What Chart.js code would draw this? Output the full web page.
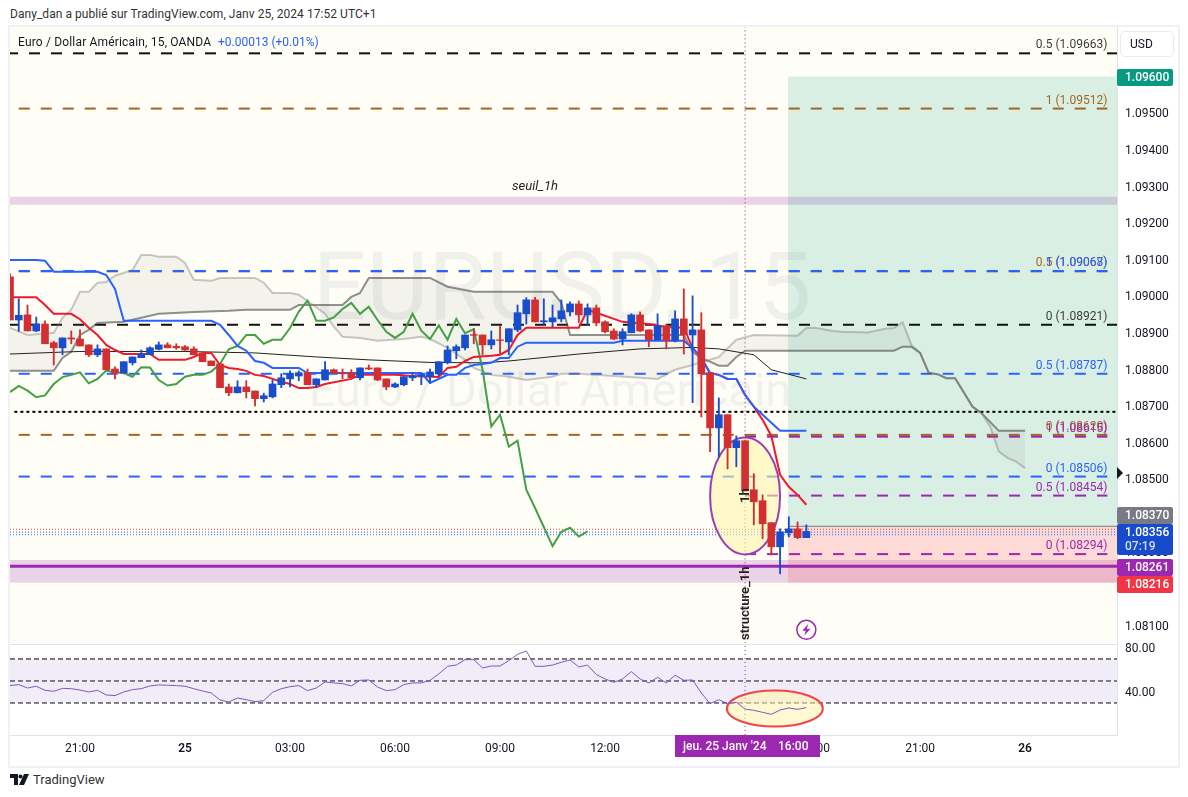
<!DOCTYPE html>
<html lang="fr">
<head>
<meta charset="UTF-8">
<title>EURUSD 15</title>
<script src="https://cdn.jsdelivr.net/npm/chart.js"></script>
<style>
  body { margin: 0; background: #fff; font-family: Roboto, sans-serif; color: #131722; }
  #page { position: relative; width: 1188px; height: 797px; overflow: hidden; }
  #frame { position: absolute; left: 8px; top: 25px; width: 1168px; height: 739px; border: 2px solid #eff1f6; }
  canvas { position: absolute; left: 10px; }
  #mainChart { top: 27px; }
  #rsiChart { top: 640px; }
  .txt { position: absolute; white-space: nowrap; font-size: 12px; line-height: 16px; }
  #usd { left: 1120px; top: 31px; width: 54px; height: 26px; box-sizing: border-box; border: 1px solid #e8eaf0; border-radius: 5px; line-height: 24px; padding-left: 9px; }
  #logo { position: absolute; left: 10px; top: 774px; }
</style>
</head>
<body>
<div id="page">
  <div id="frame"></div>
  <canvas id="mainChart" width="1168" height="616"></canvas>
  <canvas id="rsiChart" width="1168" height="126"></canvas>
  <div class="txt" style="left:10px;top:6px;color:#333;letter-spacing:.05px">Dany_dan a publié sur TradingView.com, Janv 25, 2024 17:52 UTC+1</div>
  <div class="txt" style="left:18px;top:34px;letter-spacing:.17px">Euro / Dollar Américain, 15, OANDA</div>
  <div class="txt" style="left:218px;top:34px;color:#2962ff">+0.00013 (+0.01%)</div>
  <div class="txt" id="usd">USD</div>
  <svg id="logo" width="20" height="12" viewBox="0 0 20 12"><path d="M0 0h8v11H4V4H0z M14 0h5l-5 11H9z" fill="#131722"/><circle cx="10.5" cy="2.5" r="2" fill="#131722"/></svg>
  <div class="txt" style="left:33px;top:772px;font-size:13px;color:#333">TradingView</div>
</div>

<script>
// candles, one per 15 min bar, bar 0 = 21:00
const firstBar = -8;
const opens = [1.09052,1.08934,1.08948,1.08904,1.08923,1.08872,1.08858,1.08885,1.08882,1.08866,1.08839,1.08855,1.08800,1.08789,1.08817,1.08831,1.08839,1.08854,1.08866,1.08862,1.08861,1.08855,1.08844,1.08822,1.08814,1.08751,1.08735,1.08751,1.08740,1.08719,1.08724,1.08757,1.08773,1.08781,1.08790,1.08757,1.08770,1.08798,1.08790,1.08790,1.08776,1.08803,1.08803,1.08773,1.08751,1.08757,1.08776,1.08781,1.08779,1.08787,1.08817,1.08850,1.08858,1.08894,1.08893,1.08866,1.08880,1.08874,1.08907,1.08951,1.08989,1.08929,1.08929,1.08937,1.08956,1.08978,1.08948,1.08967,1.08929,1.08904,1.08882,1.08899,1.08948,1.08907,1.08880,1.08918,1.08877,1.08937,1.08893,1.08907,1.08790,1.08639,1.08675,1.08585,1.08604,1.08470,1.08440,1.08380,1.08314,1.08352,1.08363,1.08339];
const highs = [1.09060,1.08992,1.08975,1.08942,1.08932,1.08876,1.08885,1.08904,1.08907,1.08866,1.08866,1.08855,1.08806,1.08820,1.08833,1.08852,1.08861,1.08874,1.08872,1.08869,1.08864,1.08861,1.08844,1.08822,1.08814,1.08759,1.08768,1.08768,1.08740,1.08734,1.08770,1.08787,1.08795,1.08795,1.08800,1.08773,1.08820,1.08800,1.08800,1.08798,1.08803,1.08811,1.08803,1.08773,1.08762,1.08779,1.08790,1.08787,1.08800,1.08820,1.08863,1.08866,1.08893,1.08910,1.08893,1.08904,1.08918,1.08910,1.08975,1.08995,1.08996,1.08992,1.08975,1.08989,1.08984,1.08986,1.08978,1.08975,1.08932,1.08910,1.08910,1.08951,1.08956,1.08907,1.08951,1.08923,1.08959,1.09019,1.09000,1.08954,1.08790,1.08721,1.08675,1.08617,1.08604,1.08514,1.08456,1.08380,1.08363,1.08396,1.08382,1.08374];
const lows = [1.08934,1.08903,1.08904,1.08902,1.08869,1.08811,1.08839,1.08869,1.08863,1.08834,1.08834,1.08798,1.08773,1.08789,1.08811,1.08831,1.08839,1.08852,1.08858,1.08854,1.08851,1.08839,1.08820,1.08809,1.08749,1.08727,1.08735,1.08721,1.08699,1.08710,1.08721,1.08749,1.08751,1.08768,1.08757,1.08749,1.08770,1.08787,1.08773,1.08776,1.08770,1.08798,1.08768,1.08743,1.08749,1.08754,1.08768,1.08757,1.08762,1.08781,1.08814,1.08828,1.08852,1.08869,1.08839,1.08855,1.08839,1.08839,1.08902,1.08923,1.08929,1.08923,1.08915,1.08929,1.08945,1.08927,1.08921,1.08918,1.08899,1.08880,1.08866,1.08899,1.08902,1.08861,1.08880,1.08855,1.08874,1.08841,1.08708,1.08669,1.08574,1.08560,1.08527,1.08533,1.08467,1.08374,1.08336,1.08292,1.08240,1.08341,1.08336,1.08339];
const closes = [1.08934,1.08947,1.08904,1.08923,1.08869,1.08858,1.08885,1.08882,1.08863,1.08839,1.08855,1.08798,1.08789,1.08820,1.08833,1.08841,1.08858,1.08866,1.08858,1.08858,1.08852,1.08839,1.08820,1.08809,1.08749,1.08735,1.08751,1.08738,1.08719,1.08727,1.08759,1.08776,1.08787,1.08790,1.08757,1.08773,1.08798,1.08790,1.08787,1.08776,1.08803,1.08800,1.08770,1.08751,1.08759,1.08779,1.08781,1.08784,1.08792,1.08820,1.08852,1.08861,1.08893,1.08892,1.08866,1.08880,1.08878,1.08910,1.08954,1.08989,1.08929,1.08932,1.08940,1.08959,1.08978,1.08948,1.08967,1.08926,1.08902,1.08882,1.08902,1.08948,1.08904,1.08880,1.08918,1.08877,1.08937,1.08893,1.08907,1.08787,1.08639,1.08675,1.08585,1.08604,1.08467,1.08437,1.08377,1.08314,1.08355,1.08363,1.08339,1.08356];

// indicator lines, read at their vertices
const blueBars = [-8,-5,-4,-3,2,3,4,5,15,16,17,18,19,20,21,22,25,26,39,40,42,43,44,45,47,48,49,50,51,61,62,69,70,71,72,73,74,75,76,77,78,79,80,83];
const blueVals = [1.09098,1.09098,1.09096,1.09066,1.09066,1.09057,1.09019,1.08932,1.08932,1.08921,1.08893,1.08863,1.08850,1.08822,1.08817,1.08803,1.08803,1.08789,1.08789,1.08762,1.08784,1.08784,1.08803,1.08811,1.08817,1.08830,1.08830,1.08861,1.08872,1.08872,1.08877,1.08877,1.08858,1.08830,1.08789,1.08784,1.08773,1.08773,1.08729,1.08697,1.08675,1.08653,1.08631,1.08631];
const redBars = [-8,-5,-4,-3,-1,0,1,2,3,4,5,8,9,12,13,14,15,16,17,18,19,20,21,22,23,24,25,26,27,28,31,32,36,38,41,42,43,44,45,47,48,49,50,51,57,58,59,61,62,65,67,69,70,71,72,73,74,75,76,77,78,79,80,81,82,83];
const redVals = [1.08996,1.08996,1.08975,1.08951,1.08951,1.08936,1.08913,1.08893,1.08866,1.08852,1.08841,1.08841,1.08825,1.08825,1.08833,1.08844,1.08844,1.08811,1.08803,1.08800,1.08795,1.08784,1.08781,1.08773,1.08765,1.08759,1.08748,1.08748,1.08751,1.08759,1.08773,1.08784,1.08784,1.08781,1.08778,1.08803,1.08806,1.08822,1.08833,1.08836,1.08839,1.08852,1.08893,1.08913,1.08913,1.08962,1.08954,1.08937,1.08929,1.08923,1.08915,1.08913,1.08858,1.08830,1.08789,1.08784,1.08773,1.08773,1.08729,1.08697,1.08661,1.08617,1.08511,1.08478,1.08456,1.08429];
// lagging line, one value per bar from firstBar
const greenVals = [1.08737,1.08754,1.08741,1.08723,1.08728,1.08759,1.08778,1.08784,1.08791,1.08761,1.08773,1.08796,1.08791,1.08789,1.08779,1.08805,1.08804,1.08770,1.08755,1.08759,1.08779,1.08784,1.08784,1.08793,1.08814,1.08854,1.08863,1.08893,1.08893,1.08869,1.08880,1.08880,1.08912,1.08957,1.08987,1.08932,1.08932,1.08941,1.08964,1.08981,1.08951,1.08970,1.08934,1.08902,1.08885,1.08902,1.08951,1.08905,1.08882,1.08919,1.08880,1.08937,1.08898,1.08909,1.08798,1.08643,1.08675,1.08588,1.08604,1.08470,1.08420,1.08368,1.08316,1.08355,1.08366,1.08342,1.08356];
const avgBars = [-8,0,12,20,27,33,40,46,49,57,64,70,73,77,79,83];
const avgVals = [1.08841,1.08848,1.08848,1.08844,1.08833,1.08825,1.08818,1.08817,1.08822,1.08841,1.08855,1.08859,1.08855,1.08839,1.08798,1.08773];
const spanABars = [-8,-6,-3,-2,-1,0,1,2,3,4,6,7,8,9,11,12,13,15,16,20,21,22,24,25,26,28,29,30,32,34,37,39,40,42,44,45,47,49,51,54,55,57,64,66,68,70,73,75,77,82,83,84,86,87,90,92,93,94,95,96,97,98,99,100,102,103,104,105,106,107,108];
const spanAVals = [1.08913,1.08893,1.08899,1.08940,1.08962,1.09011,1.09011,1.09036,1.09038,1.09055,1.09071,1.09112,1.09112,1.09107,1.09107,1.09090,1.09044,1.09041,1.09049,1.09049,1.09036,1.09008,1.09008,1.09003,1.08986,1.08951,1.08916,1.08888,1.08885,1.08877,1.08882,1.08888,1.08882,1.08858,1.08825,1.08803,1.08784,1.08779,1.08770,1.08779,1.08787,1.08787,1.08776,1.08773,1.08798,1.08811,1.08833,1.08880,1.08893,1.08891,1.08912,1.08913,1.08904,1.08902,1.08900,1.08910,1.08912,1.08928,1.08866,1.08844,1.08789,1.08786,1.08775,1.08775,1.08697,1.08680,1.08643,1.08574,1.08557,1.08546,1.08529];
const spanBBars = [-8,-3,-2,-1,0,1,2,5,7,9,13,17,19,24,25,30,31,32,33,40,42,45,54,55,56,58,69,70,71,72,73,74,75,76,93,94,95,96,97,98,99,100,102,103,105,108];
const spanBVals = [1.08795,1.08795,1.08830,1.08847,1.08893,1.08907,1.08926,1.08929,1.08940,1.08951,1.08956,1.08959,1.08962,1.08962,1.08975,1.08975,1.08997,1.09008,1.09049,1.09049,1.09025,1.09011,1.09011,1.08981,1.08893,1.08893,1.08893,1.08847,1.08830,1.08820,1.08809,1.08809,1.08833,1.08850,1.08850,1.08861,1.08861,1.08844,1.08789,1.08786,1.08775,1.08775,1.08697,1.08680,1.08631,1.08631];

// RSI, one value per bar from firstBar
const rsiVals = [45.8,46.7,43.6,45.2,41.5,40.6,43.3,43,41.8,40,41.5,37.3,36.7,40,42.1,43,45.5,46.4,46.1,45.8,45.2,43,40.9,39.1,32.7,30.9,34.5,33,31.2,32.1,39.7,43,44.8,45.8,41.2,43.6,49.1,48.2,47.6,45.5,50.6,50.9,44.5,41.2,42.1,46.7,48.2,48.2,50.6,56.4,63.3,64.5,69.4,69.4,61.8,63.6,63.6,68.5,74.2,77.3,63.3,63.3,64.5,67,69.1,62.7,64.5,55.8,51.8,48.8,51.8,58.5,51.8,48.2,53.3,48.2,55.2,50.6,50.9,39.1,29.4,33,29.4,30.6,24.5,23.3,21.5,19.7,23.6,25.5,24.2,25.8];
const rsiLevels = [70, 50, 30];
const rsiTicks = [80, 40];

// drawings
const fibPrices = [1.09663,1.09512,1.09067,1.09068,1.08921,1.08787,1.08620,1.08615,1.08506,1.08454,1.08294];
const fibNames = ['0.5','1','0.5','1','0','0.5','0','1','0','0.5','0'];
const fibStart = [-8,-7,-7,-7,-8,-7,-7,76,-7,76,76];
const fibEnd = [118.5,117.4,117.4,117.4,118.5,117.4,117.4,117.4,117.4,117.4,117.4];
const dottedLevel = 1.08683;
const thinDotted = [1.08362,1.08354,1.08347];
const seuilBand = [1.09271,1.09249];
const structureBand = [1.08278,1.08216];
const supportLine = 1.08261;
const targetPrice = 1.09600, entryPrice = 1.08370, stopPrice = 1.08216;
const positionStart = 80.9;
const crosshairBar = 76;

const priceTicks = [1.095,1.094,1.093,1.092,1.091,1.09,1.089,1.088,1.087,1.086,1.085,1.084,1.083,1.082,1.081];
const timeTicks = [0,12,24,36,48,60,72,84,96,108];
const timeLabels = ['21:00','25','03:00','06:00','09:00','12:00','15:00','18:00','21:00','26'];

const FONT = 'Roboto, sans-serif';
const BLACK = '#111', BROWN = '#a5651f', BLUE = '#2962ff', PURPLE = '#9c27b0';
const fibColors = [BLACK,BROWN,BROWN,BLUE,BLACK,BLUE,BROWN,PURPLE,BLUE,PURPLE,PURPLE];
const fibTextColors = ['#3c3c3c',BROWN,BROWN,BLUE,'#3c3c3c',BLUE,BROWN,PURPLE,BLUE,PURPLE,PURPLE];
const RED_C = '#d12f32', BLUE_C = '#184dcc';

const pts = (bars, vals) => bars.map((b, i) => ({ x: b, y: vals[i] }));
const perBar = vals => vals.map((v, i) => ({ x: firstBar + i, y: v }));
const xMin = -8, xMax = 118.5;

function lineDs(data, color, width, order, extra) {
  return Object.assign({ type: 'line', data, borderColor: color, borderWidth: width, pointRadius: 0, tension: 0, fill: false, order }, extra || {});
}

const candleColors = opens.map((o, i) => closes[i] >= o ? BLUE_C : RED_C);
const datasets = [];
fibPrices.forEach((p, i) => {
  const black = fibColors[i] === BLACK;
  datasets.push(lineDs([{ x: fibStart[i], y: p }, { x: fibEnd[i], y: p }], fibColors[i], 2, 60 - i, { borderDash: [11, 11], borderDashOffset: black ? 3 : 0 }));
});
datasets.push(lineDs([{ x: -7.5, y: dottedLevel }, { x: xMax, y: dottedLevel }], '#000', 2, 45, { borderDash: [3, 3] }));
thinDotted.forEach((p, i) => datasets.push(lineDs([{ x: xMin, y: p }, { x: xMax, y: p }], i ? BLUE : '#e0453f', 1, 44, { borderDash: [1, 2] })));
datasets.push(lineDs([{ x: xMin, y: supportLine }, { x: xMax, y: supportLine }], PURPLE, 3, 43));
datasets.push(lineDs([{ x: positionStart, y: entryPrice }, { x: xMax, y: entryPrice }], '#787b86', 1, 42));
datasets.push(lineDs([{ x: crosshairBar, y: 1.0805 }, { x: crosshairBar, y: 1.0974 }], '#7b1fa2', 1, 41, { borderDash: [1, 3] }));
const spanBIndex = datasets.length;
datasets.push(lineDs(pts(spanBBars, spanBVals), 'rgba(70,70,70,.6)', 2, 40));
datasets.push(lineDs(pts(spanABars, spanAVals), 'rgba(120,120,120,.4)', 2, 39, { fill: { target: spanBIndex }, backgroundColor: 'rgba(120,123,134,.09)' }));
datasets.push(lineDs(pts(avgBars, avgVals), '#222', 1, 35));
datasets.push(lineDs(perBar(greenVals), '#43a047', 2, 30));
datasets.push(lineDs(pts(redBars, redVals), '#f0192c', 2, 25));
datasets.push(lineDs(pts(blueBars, blueVals), BLUE, 2, 20));
const wickIndex = datasets.length;
datasets.push({
  type: 'bar', order: 11, grouped: false, barThickness: 1.2,
  data: highs.map((h, i) => ({ x: firstBar + i, y: [lows[i], h] })),
  backgroundColor: candleColors
});
datasets.push({
  type: 'bar', order: 10, grouped: false, barThickness: 7,
  data: opens.map((o, i) => ({ x: firstBar + i, y: [o, closes[i]] })),
  backgroundColor: candleColors
});

function tag(ctx, text, color, top, height, sub) {
  ctx.fillStyle = color;
  ctx.beginPath();
  ctx.roundRect(1107, top, 56, height, 2);
  ctx.fill();
  ctx.fillStyle = '#fff';
  ctx.font = '500 12px ' + FONT;
  ctx.textAlign = 'left';
  ctx.textBaseline = 'middle';
  ctx.fillText(text, 1115, top + (sub ? 8.5 : height / 2 + 0.5));
  if (sub) {
    ctx.fillStyle = '#d5dff8';
    ctx.fillText(sub, 1115, top + 22.5);
  }
}

const mainDrawings = {
  id: 'mainDrawings',
  beforeDatasetsDraw(chart) {
    const { ctx, chartArea: a, scales: { x, y } } = chart;
    ctx.save();
    ctx.fillStyle = '#fffef6';
    ctx.fillRect(a.left, a.top, a.width, a.height);
    // watermark
    ctx.fillStyle = 'rgba(120,123,134,.1)';
    ctx.textAlign = 'center';
    ctx.textBaseline = 'middle';
    ctx.font = '95px ' + FONT;
    ctx.fillText('EURUSD, 15', 552, 268);
    ctx.font = '47px ' + FONT;
    ctx.fillText('Euro / Dollar Américain', 540, 367);
    // bands
    const band = (b, color, x0) => {
      ctx.fillStyle = color;
      ctx.fillRect(x0, y.getPixelForValue(b[0]), a.right - x0, y.getPixelForValue(b[1]) - y.getPixelForValue(b[0]));
    };
    band(seuilBand, 'rgba(156,39,176,.2)', a.left);
    band(structureBand, 'rgba(156,39,176,.2)', a.left);
    const px = x.getPixelForValue(positionStart);
    band([targetPrice, entryPrice], 'rgba(8,153,129,.15)', px);
    band([entryPrice, stopPrice], 'rgba(242,54,69,.18)', px);
    ctx.restore();
  },
  beforeDatasetDraw(chart, args) {
    if (args.index !== wickIndex) return;
    const { ctx, scales: { x, y } } = chart;
    ctx.save();
    ctx.beginPath();
    ctx.ellipse(x.getPixelForValue(76), y.getPixelForValue(1.08453), 35, 58.5, 0, 0, Math.PI * 2);
    ctx.fillStyle = 'rgba(255,243,170,.6)';
    ctx.fill();
    ctx.strokeStyle = '#9c3fb0';
    ctx.lineWidth = 2;
    ctx.stroke();
    ctx.restore();
  },
  afterDatasetsDraw(chart) {
    const { ctx, chartArea: a, scales: { x, y } } = chart;
    ctx.save();
    ctx.font = '12px ' + FONT;
    ctx.textAlign = 'right';
    ctx.textBaseline = 'alphabetic';
    fibPrices.forEach((p, i) => {
      ctx.fillStyle = fibTextColors[i];
      ctx.fillText(fibNames[i] + ' (' + p.toFixed(5) + ')', x.getPixelForValue(117.4), y.getPixelForValue(p) - 5);
    });
    ctx.fillStyle = '#222';
    ctx.textAlign = 'center';
    ctx.font = 'italic 13px ' + FONT;
    ctx.fillText('seuil_1h', 525, y.getPixelForValue(seuilBand[0]) - 7);
    // rotated structure labels
    ctx.font = '600 13px ' + FONT;
    const cx = x.getPixelForValue(crosshairBar);
    ctx.save();
    ctx.translate(cx + 4, 0);
    ctx.rotate(-Math.PI / 2);
    ctx.textAlign = 'left';
    ctx.fillText('structure_1h', -613, 0);
    ctx.fillText('1h', -476, 0);
    ctx.restore();
    // alert icon
    const ix = x.getPixelForValue(83), iy = y.getPixelForValue(1.08087);
    ctx.strokeStyle = PURPLE;
    ctx.lineWidth = 1.5;
    ctx.beginPath();
    ctx.arc(ix, iy, 9.5, 0, Math.PI * 2);
    ctx.stroke();
    ctx.fillStyle = PURPLE;
    ctx.beginPath();
    ctx.moveTo(ix + 2, iy - 6); ctx.lineTo(ix - 4, iy + 1); ctx.lineTo(ix - 0.5, iy + 1);
    ctx.lineTo(ix - 2, iy + 6); ctx.lineTo(ix + 4, iy - 1); ctx.lineTo(ix + 0.5, iy - 1);
    ctx.closePath();
    ctx.fill();
    // position arrow on the axis
    ctx.fillStyle = '#131722';
    ctx.beginPath();
    ctx.moveTo(a.right, 440); ctx.lineTo(a.right + 6, 446); ctx.lineTo(a.right, 452);
    ctx.closePath();
    ctx.fill();
    // price tags
    tag(ctx, targetPrice.toFixed(5), '#089981', 42, 17);
    tag(ctx, entryPrice.toFixed(5), '#787b86', 480, 17);
    tag(ctx, '1.08356', '#174bcc', 497, 31, '07:19');
    tag(ctx, supportLine.toFixed(5), PURPLE, 532, 17);
    tag(ctx, stopPrice.toFixed(5), '#f23645', 549, 17);
    ctx.restore();
  }
};

new Chart(document.getElementById('mainChart'), {
  type: 'bar',
  data: { datasets },
  plugins: [mainDrawings],
  options: {
    responsive: false,
    animation: false,
    layout: { padding: 0, autoPadding: false },
    plugins: { legend: { display: false }, tooltip: { enabled: false } },
    scales: {
      x: { type: 'linear', min: xMin, max: xMax, offset: false, display: false },
      y: {
        position: 'right', min: 1.08051, max: 1.09735,
        grid: { display: false },
        border: { color: '#e0e3eb' },
        afterFit(s) { s.width = 61; s.paddingTop = 0; s.paddingBottom = 0; },
        afterBuildTicks(s) { s.ticks = priceTicks.map(v => ({ value: v })); },
        ticks: { color: '#131722', font: { size: 12, family: FONT }, padding: 0, labelOffset: 1.5, callback: v => v.toFixed(5) }
      }
    }
  }
});

const rsiDrawings = {
  id: 'rsiDrawings',
  beforeDatasetsDraw(chart) {
    const { ctx, chartArea: a } = chart;
    ctx.save();
    ctx.strokeStyle = '#e0e3eb';
    ctx.beginPath(); ctx.moveTo(a.left, a.top + 0.5); ctx.lineTo(a.right, a.top + 0.5); ctx.stroke();
    ctx.restore();
  },
  beforeDatasetDraw(chart, args) {
    if (args.index !== chart.data.datasets.length - 1) return;
    const { ctx, scales: { x, y } } = chart;
    ctx.save();
    ctx.beginPath();
    ctx.ellipse(x.getPixelForValue(79.4), y.getPixelForValue(25), 48, 18, 0, 0, Math.PI * 2);
    ctx.fillStyle = 'rgba(255,243,170,.55)';
    ctx.fill();
    ctx.strokeStyle = '#f0454a';
    ctx.lineWidth = 2;
    ctx.stroke();
    ctx.restore();
  },
  afterDatasetsDraw(chart) {
    const { ctx, chartArea: a } = chart;
    ctx.save();
    ctx.fillStyle = PURPLE;
    ctx.fillRect(665, a.bottom, 145, 22);
    ctx.fillStyle = '#fff';
    ctx.font = '500 12px ' + FONT;
    ctx.textAlign = 'left';
    ctx.textBaseline = 'middle';
    ctx.fillText("jeu. 25 Janv '24", 673, a.bottom + 12);
    ctx.fillText('16:00', 768, a.bottom + 12);
    ctx.restore();
  }
};

const rsiDatasets = [
  lineDs([{ x: xMin, y: rsiLevels[0] }, { x: xMax, y: rsiLevels[0] }], '#000', 1, 5, { borderDash: [5, 3], fill: { value: rsiLevels[2] }, backgroundColor: 'rgba(126,87,194,.11)' }),
  lineDs([{ x: xMin, y: rsiLevels[1] }, { x: xMax, y: rsiLevels[1] }], '#000', 1, 5, { borderDash: [5, 3] }),
  lineDs([{ x: xMin, y: rsiLevels[2] }, { x: xMax, y: rsiLevels[2] }], '#000', 1, 5, { borderDash: [5, 3] }),
  lineDs([{ x: crosshairBar, y: 1 }, { x: crosshairBar, y: 83.5 }], '#7b1fa2', 1, 4, { borderDash: [1, 3] }),
  lineDs(perBar(rsiVals), '#7e57c2', 1, 1)
];

new Chart(document.getElementById('rsiChart'), {
  type: 'line',
  data: { datasets: rsiDatasets },
  plugins: [rsiDrawings],
  options: {
    responsive: false,
    animation: false,
    layout: { padding: { top: 4 }, autoPadding: false },
    plugins: { legend: { display: false }, tooltip: { enabled: false } },
    scales: {
      x: {
        type: 'linear', min: xMin, max: xMax,
        grid: { display: false, drawTicks: false },
        border: { color: '#e0e3eb' },
        afterFit(s) { s.height = 31; s.paddingLeft = 0; s.paddingRight = 0; },
        afterBuildTicks(s) { s.ticks = timeTicks.map(v => ({ value: v })); },
        ticks: {
          autoSkip: false, maxRotation: 0, padding: 7, color: '#131722',
          font: c => ({ size: 12, family: FONT, weight: (c.tick && (c.tick.value === 12 || c.tick.value === 108)) ? '600' : '400' }),
          callback: v => timeLabels[timeTicks.indexOf(v)]
        }
      },
      y: {
        position: 'right', min: 0.9, max: 83.6,
        grid: { display: false },
        border: { color: '#e0e3eb' },
        afterFit(s) { s.width = 61; s.paddingTop = 0; s.paddingBottom = 0; },
        afterBuildTicks(s) { s.ticks = rsiTicks.map(v => ({ value: v })); },
        ticks: { color: '#131722', font: { size: 12, family: FONT }, padding: 0, labelOffset: 1.5, callback: v => v.toFixed(2) }
      }
    }
  }
});
</script>
</body>
</html>
